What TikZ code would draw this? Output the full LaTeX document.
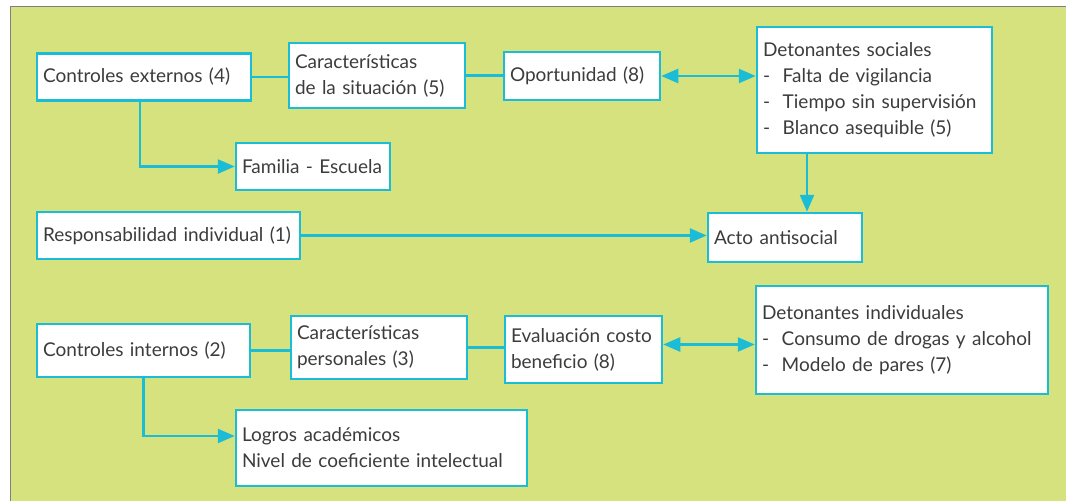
\documentclass[tikz,border=0pt]{standalone}
\usepackage{fontspec}
\setmainfont{Lato}
\usepackage{tikz}
\usetikzlibrary{arrows.meta,positioning,calc}

\definecolor{panelgreen}{RGB}{214,226,126}
\definecolor{boxcyan}{RGB}{26,188,214}
\definecolor{textgray}{RGB}{60,60,60}

\begin{document}
\begin{tikzpicture}[x=1pt,y=-1pt,
  box/.style={draw=boxcyan,line width=2.5pt,fill=white,inner xsep=6pt,inner ysep=2pt,
    align=left,text=textgray,font=\fontsize{19}{26}\selectfont},
  link/.style={draw=boxcyan,line width=2.5pt},
  arrow/.style={link,-{Triangle[length=17pt,width=14pt]}},
  twoway/.style={link,{Triangle[length=17pt,width=14pt]}-{Triangle[length=17pt,width=14pt]}}]
\useasboundingbox (0,0) rectangle (1066,501);

% Panel
\fill[panelgreen] (10,6) rectangle (1066,501);
\draw[gray,line width=1pt] (10,501) -- (10,6) -- (1066,6);

% Upper row
\node[box,text width=202pt,minimum height=47pt] (cext) at (144,77) {Controles externos (4)};
\node[box,text width=164pt,minimum height=65pt] (csit) at (377,75.5) {Características\\de la situación (5)};
\node[box,text width=144pt,minimum height=48pt] (opor) at (582,76) {Oportunidad (8)};
\node[box,text width=223pt,minimum height=126pt] (dsoc) at (874.5,90) {Detonantes sociales\\- \ Falta de vigilancia\\- \ Tiempo sin supervisión\\- \ Blanco asequible (5)};
\node[box,text width=142pt,minimum height=47pt] (fam) at (313,166.5) {Familia - Escuela};

% Middle row
\node[box,text width=251pt,minimum height=47pt] (resp) at (168.5,235.5) {Responsabilidad individual (1)};
\node[box,text width=142pt,minimum height=49pt] (acto) at (785,237.5) {Acto antisocial};

% Lower row
\node[box,text width=201pt,minimum height=53pt] (cint) at (143.5,350.5) {Controles internos (2)};
\node[box,text width=164pt,minimum height=63pt] (cper) at (379,347.5) {Características\\personales (3)};
\node[box,text width=145pt,minimum height=67pt] (eval) at (583.5,349.5) {Evaluación costo\\beneficio (8)};
\node[box,text width=280pt,minimum height=108pt] (dind) at (902,340) {Detonantes individuales\\- \ Consumo de drogas y alcohol\\- \ Modelo de pares (7)};
\node[box,text width=279pt,minimum height=76pt] (logr) at (381.5,448) {Logros académicos\\Nivel de coeficiente intelectual};

% Connectors
\coordinate (actotop) at ([xshift=22pt]acto.north);
\coordinate (logrin) at ([yshift=12pt]logr.west);
\draw[link] (cext.east) -- (cext.east -| csit.west);
\draw[link] (csit.east) -- (csit.east -| opor.west);
\draw[twoway] (opor.east) -- (opor.east -| dsoc.west);
\draw[arrow] ([xshift=-4pt]cext.south) |- (fam.west);
\draw[arrow] (actotop |- dsoc.south) -- (actotop);
\draw[arrow] (resp.east) -- (resp.east -| acto.west);
\draw[link] (cint.east) -- (cint.east -| cper.west);
\draw[link] (cper.east) -- (cper.east -| eval.west);
\draw[twoway] ([yshift=5pt]eval.east) -- ([yshift=5pt]eval.east -| dind.west);
\draw[arrow] (cint.south) |- (logrin);
\end{tikzpicture}
\end{document}
